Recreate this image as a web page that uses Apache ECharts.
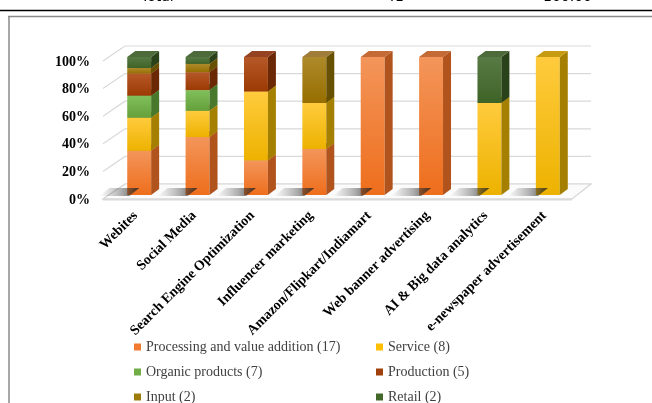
<!DOCTYPE html>
<html>
<head>
<meta charset="utf-8">
<script src="https://cdn.jsdelivr.net/npm/echarts@6/dist/echarts.min.js"></script>
<style>
html,body{margin:0;padding:0;background:#fff;}
#chart{width:652px;height:403px;}
</style>
</head>
<body>
<div id="chart"></div>
<script>
const categories = ['Webites','Social Media','Search Engine Optimization','Influencer marketing','Amazon/Flipkart/Indiamart','Web banner advertising','AI & Big data analytics','e-newspaper advertisement'];
const processing = [32, 42, 25, 33.3, 100, 100, 0, 0];
const service    = [24, 19, 50, 33.3, 0, 0, 66.7, 100];
const organic    = [16, 15, 0, 0, 0, 0, 0, 0];
const production = [16, 13, 25, 0, 0, 0, 0, 0];
const input      = [4, 6, 0, 33.4, 0, 0, 0, 0];
const retail     = [8, 5, 0, 0, 0, 0, 33.3, 0];
const seriesNames = ['Processing and value addition (17)','Service (8)','Organic products (7)','Production (5)','Input (2)','Retail (2)'];
const yTicks = [0, 20, 40, 60, 80, 100];
const headerTexts = ['Total', '41', '100.00'];

const palette = [
  {legend:'#F07A30', front:['#F3955A','#EE6E1C'], side:'#B0531C', top:'#C46A35'},
  {legend:'#FFC000', front:['#FFCB3D','#EDB200'], side:'#A58000', top:'#C79B10'},
  {legend:'#70AD47', front:['#80C05A','#64A03C'], side:'#48782C', top:'#5D8F3A'},
  {legend:'#A0410D', front:['#B55828','#9C3A03'], side:'#6B2805', top:'#944222'},
  {legend:'#9E7C0C', front:['#AE8A2A','#966E00'], side:'#675000', top:'#A07C3A'},
  {legend:'#43682B', front:['#587A45','#3E6326'], side:'#2A4219', top:'#4D6B3A'}
];
const values = [processing, service, organic, production, input, retail];

const DX = 8, DY = 6, BARW = 0.41;

function barRender(col) {
  const grad = new echarts.graphic.LinearGradient(0, 0, 0, 1, [
    {offset: 0, color: col.front[0]}, {offset: 1, color: col.front[1]}]);
  return function (params, api) {
    const i = api.value(0), b = api.value(1), t = api.value(2);
    if (!(t > b)) return null;
    const pb = api.coord([i, b]), pt = api.coord([i, t]);
    const w = api.size([1, 0])[0] * BARW;
    const x0 = pb[0] - w / 2, x1 = x0 + w, yb = pb[1], yt = pt[1];
    return {type: 'group', children: [
      {type: 'rect', shape: {x: x0, y: yt, width: w, height: yb - yt}, style: {fill: grad}},
      {type: 'polygon', shape: {points: [[x1, yb], [x1 + DX, yb - DY], [x1 + DX, yt - DY], [x1, yt]]}, style: {fill: col.side}},
      {type: 'polygon', shape: {points: [[x0, yt], [x1, yt], [x1 + DX, yt - DY], [x0 + DX, yt - DY]]}, style: {fill: col.top}}
    ]};
  };
}

const series = [];
// back wall gridlines
series.push({
  type: 'custom', name: 'wall', silent: true,
  data: yTicks.map(v => [0, v]), encode: {x: 0, y: 1},
  renderItem: function (params, api) {
    const cs = params.coordSys;
    const y = api.coord([0, api.value(1)])[1];
    return {type: 'polyline', shape: {points: [[cs.x - 7, y + 4], [cs.x + 15, y - 11], [cs.x + cs.width + 14, y - 11]]},
      style: {stroke: '#d9d9d9', lineWidth: 1.2, fill: null}};
  }
});
// floor + shadows
series.push({
  type: 'custom', name: 'floor', silent: true,
  data: categories.map((c, i) => [i, 0]), encode: {x: 0, y: 1},
  renderItem: function (params, api) {
    const cs = params.coordSys;
    const i = api.value(0);
    const p = api.coord([i, 0]);
    const w = api.size([1, 0])[0] * BARW;
    const x0 = p[0] - w / 2, y0 = p[1];
    const children = [];
    if (i === 0) {
      children.push({type: 'polygon', z2: 0, shape: {points: [[cs.x - 7, y0 + 4], [cs.x + cs.width - 5, y0 + 4], [cs.x + cs.width + 14, y0 - 11], [cs.x + 15, y0 - 11]]},
        style: {fill: '#fbfbfb', stroke: '#d6d6d6', lineWidth: 1.2}});
      children.push({type: 'line', z2: 1, shape: {x1: cs.x - 7, y1: y0 + 4.5, x2: cs.x + cs.width - 5, y2: y0 + 4.5}, style: {stroke: '#d9d9d9', lineWidth: 2}});
    }
    children.push({type: 'polygon', z2: 2, shape: {points: [[x0 - 28, y0 + 1], [x0 + 2, y0 + 1], [x0 + 12, y0 - 7], [x0 - 18, y0 - 7]]},
      style: {fill: new echarts.graphic.LinearGradient(0, 0, 1, 0, [
        {offset: 0, color: 'rgba(90,90,90,0)'}, {offset: 0.55, color: 'rgba(60,60,60,0.4)'}, {offset: 1, color: 'rgba(30,30,30,0.8)'}])}});
    return {type: 'group', children: children};
  }
});
// stacked 3D bars
const base = categories.map(() => 0);
values.forEach((arr, k) => {
  const data = categories.map((c, i) => {
    const b = base[i], t = base[i] + arr[i];
    base[i] = t;
    return [i, b, t];
  });
  series.push({
    type: 'custom', name: seriesNames[k],
    itemStyle: {color: palette[k].legend},
    data: data, encode: {x: 0, y: [1, 2]},
    renderItem: barRender(palette[k])
  });
});

const chart = echarts.init(document.getElementById('chart'), null, {renderer: 'canvas'});
const legendText = {fontFamily: 'Liberation Serif', fontSize: 14, color: '#404040'};
const legendCommon = {orient: 'vertical', top: 340, height: 120, padding: 0,
  icon: 'rect', itemWidth: 7, itemHeight: 7, itemGap: 11, textStyle: legendText, selectedMode: false};
chart.setOption({
  animation: false,
  backgroundColor: '#fff',
  grid: {left: 110, right: 75, top: 57, bottom: 208, containLabel: false},
  xAxis: {
    type: 'category', data: categories,
    axisLine: {show: false}, axisTick: {show: false},
    axisLabel: {interval: 0, rotate: 45, margin: 15, padding: [0, 5, 0, 0], fontFamily: 'Liberation Serif', fontWeight: 'bold', fontSize: 14, color: '#000'}
  },
  yAxis: {
    type: 'value', min: 0, max: 100, interval: 20,
    axisLine: {show: false}, axisTick: {show: false}, splitLine: {show: false},
    axisLabel: {formatter: '{value}%', margin: 20, verticalAlign: 'top', lineHeight: 10,
      fontFamily: 'Liberation Serif', fontWeight: 'bold', fontSize: 14, color: '#000'}
  },
  legend: [
    Object.assign({data: [seriesNames[0], seriesNames[2], seriesNames[4]], left: 134}, legendCommon),
    Object.assign({data: [seriesNames[1], seriesNames[3], seriesNames[5]], left: 376}, legendCommon)
  ],
  graphic: [
    {type: 'line', shape: {x1: 0, y1: 10.5, x2: 652, y2: 10.5}, style: {stroke: '#000', lineWidth: 1.5}, silent: true},
    {type: 'line', shape: {x1: 8, y1: 16.5, x2: 652, y2: 16.5}, style: {stroke: '#8a8a8a', lineWidth: 1.5}, silent: true},
    {type: 'line', shape: {x1: 9, y1: 16, x2: 9, y2: 403}, style: {stroke: '#8a8a8a', lineWidth: 1.5}, silent: true},
    {type: 'text', left: 141, top: -10, style: {text: headerTexts[0], font: '14px "DejaVu Sans"', fill: '#000'}, silent: true},
    {type: 'text', left: 386, top: -10, style: {text: headerTexts[1], font: '14px "DejaVu Sans"', fill: '#000'}, silent: true},
    {type: 'text', left: 543, top: -10, style: {text: headerTexts[2], font: '14px "DejaVu Sans"', fill: '#000'}, silent: true}
  ],
  series: series
});
</script>
</body>
</html>
